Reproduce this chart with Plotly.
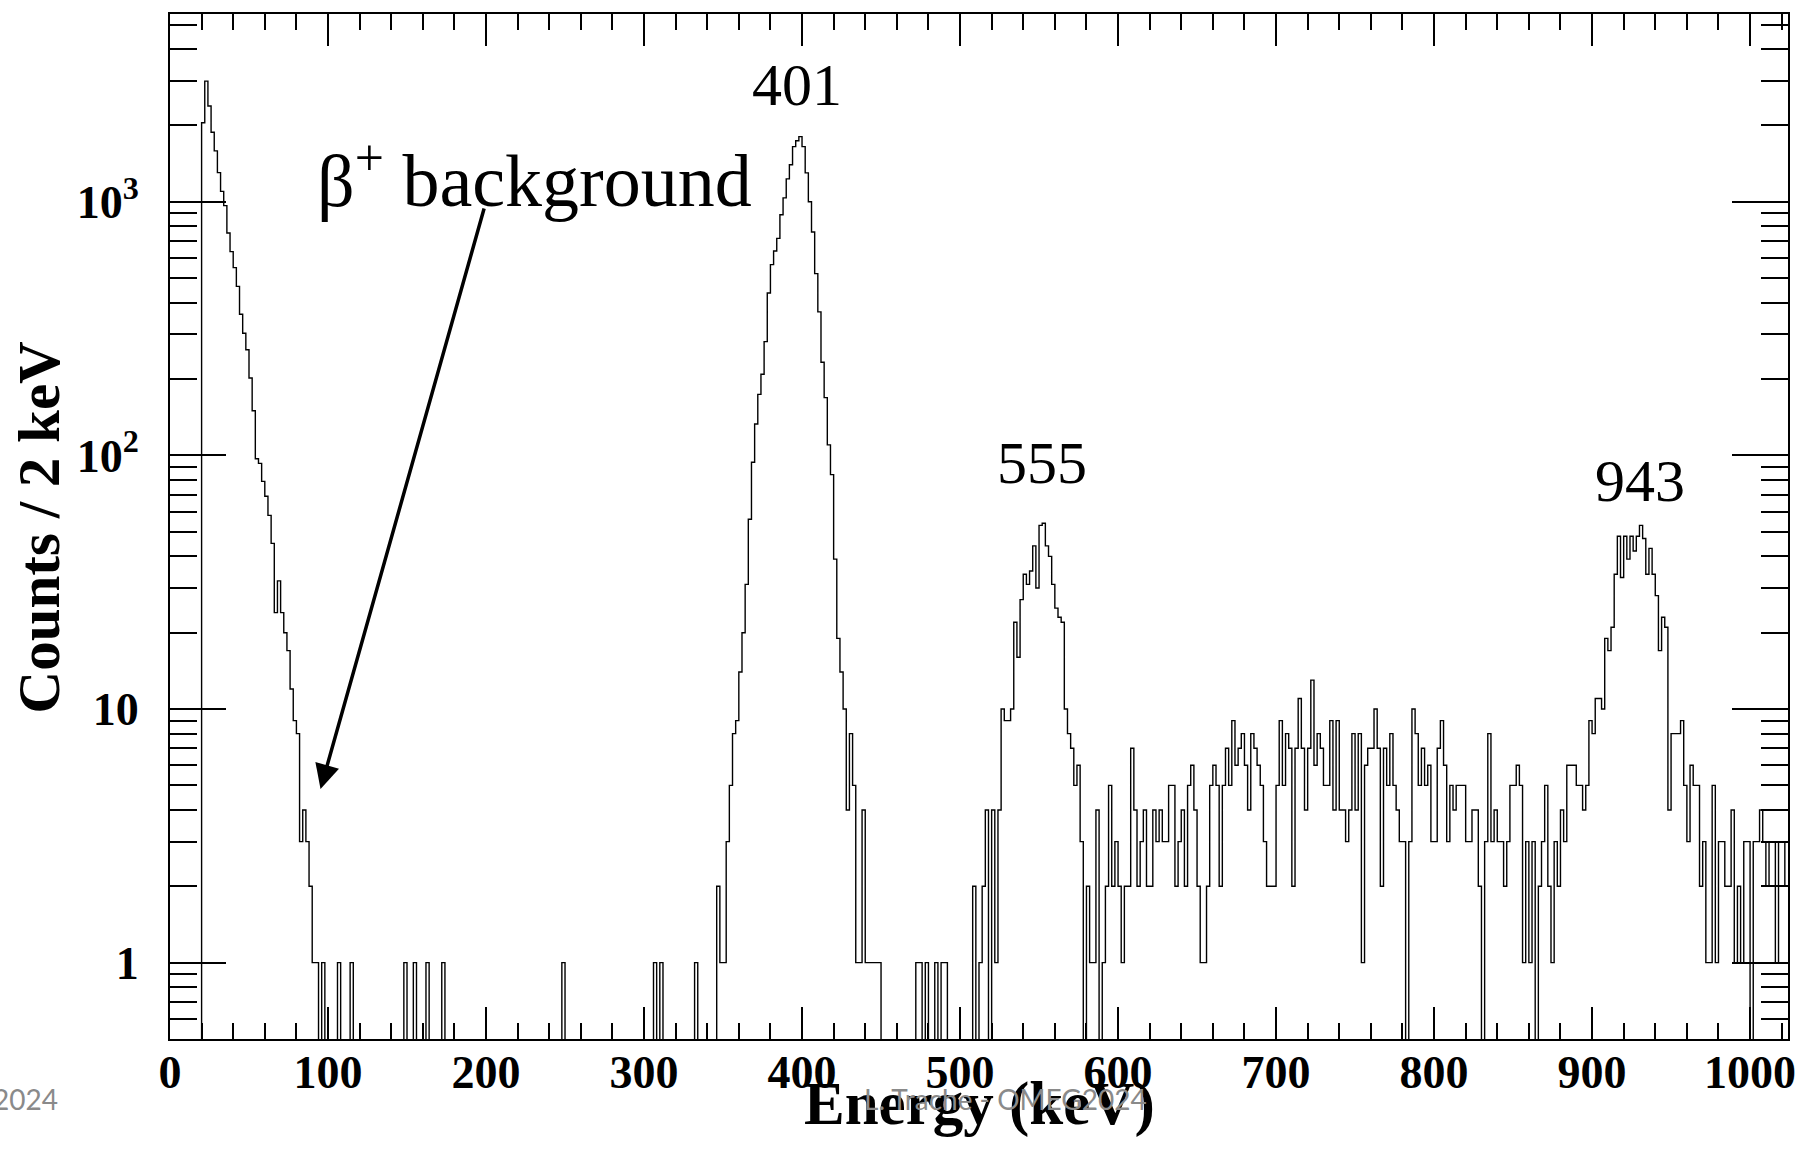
import math
import plotly.graph_objects as go

# ---------------- data (2 keV bins, 0 - 1024 keV) ----------------
bin_width_kev = 2
first_edge_kev = 0

counts_0000_0126 = [0, 0, 0, 0, 0, 0, 0, 0, 0, 0,
                    2048, 2990, 2386, 1881, 1588, 1303, 1099, 966, 753, 636,
                    550, 464, 360, 303, 261, 202, 150, 97, 93, 79,
                    69, 58, 45, 24, 32, 24, 20, 17, 12, 9,
                    8, 3, 4, 3, 2, 1, 1, 0, 1, 0,
                    0, 0, 0, 1, 0, 0, 0, 1, 0, 0,
                    0, 0, 0, 0]
counts_0128_0254 = [0, 0, 0, 0, 0, 0, 0, 0, 0, 0,
                    1, 0, 0, 1, 0, 0, 0, 1, 0, 0,
                    0, 0, 1, 0, 0, 0, 0, 0, 0, 0,
                    0, 0, 0, 0, 0, 0, 0, 0, 0, 0,
                    0, 0, 0, 0, 0, 0, 0, 0, 0, 0,
                    0, 0, 0, 0, 0, 0, 0, 0, 0, 0,
                    1, 0, 0, 0]
counts_0256_0382 = [0, 0, 0, 0, 0, 0, 0, 0, 0, 0,
                    0, 0, 0, 0, 0, 0, 0, 0, 0, 0,
                    0, 0, 0, 0, 0, 1, 0, 1, 0, 0,
                    0, 0, 0, 0, 0, 0, 0, 0, 1, 0,
                    0, 0, 0, 0, 0, 2, 1, 1, 3, 5,
                    8, 9, 14, 20, 31, 56, 94, 133, 174, 209,
                    281, 437, 565, 640]
counts_0384_0510 = [717, 889, 1036, 1231, 1400, 1650, 1740, 1807, 1650, 1300,
                    1000, 760, 521, 368, 233, 169, 110, 84, 39, 19,
                    14, 10, 4, 8, 5, 1, 1, 4, 1, 1,
                    1, 1, 1, 0, 0, 0, 0, 0, 0, 0,
                    0, 0, 0, 0, 1, 1, 0, 1, 0, 0,
                    1, 0, 1, 1, 0, 0, 0, 0, 0, 0,
                    0, 0, 2, 0]
counts_0512_0638 = [1, 2, 4, 0, 4, 1, 4, 10, 9, 9,
                    10, 22, 16, 27, 34, 31, 35, 44, 30, 53,
                    54, 44, 40, 31, 25, 23, 22, 10, 8, 7,
                    5, 6, 3, 0, 2, 1, 1, 4, 0, 1,
                    2, 5, 2, 3, 2, 1, 2, 2, 7, 4,
                    2, 3, 4, 2, 2, 4, 3, 4, 3, 3,
                    5, 5, 2, 3]
counts_0640_0766 = [4, 2, 5, 6, 4, 2, 1, 1, 2, 5,
                    6, 5, 2, 5, 7, 5, 9, 6, 7, 8,
                    6, 4, 8, 7, 6, 5, 3, 2, 2, 2,
                    5, 9, 5, 8, 7, 2, 7, 11, 7, 4,
                    7, 13, 6, 8, 7, 5, 5, 9, 4, 9,
                    4, 4, 3, 4, 8, 4, 8, 1, 6, 7,
                    7, 10, 7, 2]
counts_0768_0894 = [7, 5, 8, 5, 4, 3, 3, 0, 3, 10,
                    8, 5, 7, 5, 6, 3, 3, 7, 9, 6,
                    3, 5, 4, 5, 5, 5, 3, 3, 4, 4,
                    2, 0, 3, 8, 3, 4, 3, 3, 2, 3,
                    5, 5, 6, 5, 1, 3, 1, 3, 0, 2,
                    3, 5, 2, 1, 3, 2, 4, 3, 6, 6,
                    6, 5, 5, 4]
counts_0896_1022 = [5, 9, 8, 11, 11, 10, 19, 17, 21, 34,
                    48, 33, 48, 39, 48, 42, 48, 53, 47, 34,
                    43, 34, 28, 17, 23, 21, 4, 8, 8, 8,
                    9, 5, 3, 6, 5, 5, 2, 3, 1, 1,
                    5, 1, 3, 3, 2, 2, 4, 1, 2, 1,
                    3, 3, 0, 3, 3, 4, 3, 2, 3, 3,
                    1, 3, 3, 2]

x_tick_vals = [0, 100, 200, 300, 400, 500, 600, 700, 800, 900, 1000]
x_tick_text = ["0", "100", "200", "300", "400", "500", "600", "700", "800", "900", "1000"]
x_minor_vals = [v for v in range(0, 1025, 20) if v % 100 != 0]

y_tick_vals = [1, 10, 100, 1000]
y_tick_text = ["1", "10", "10<sup>2</sup>", "10<sup>3</sup>"]
y_minor_vals = [0.6, 0.7, 0.8, 0.9,
                2, 3, 4, 5, 6, 7, 8, 9,
                20, 30, 40, 50, 60, 70, 80, 90,
                200, 300, 400, 500, 600, 700, 800, 900,
                2000, 3000, 4000, 5000]

peak_labels = ["401", "555", "943"]
annotation_text = "β<sup>+</sup> background"

# ---------------- build ----------------
counts = (counts_0000_0126 + counts_0128_0254 + counts_0256_0382 + counts_0384_0510 +
          counts_0512_0638 + counts_0640_0766 + counts_0768_0894 + counts_0896_1022)
edges = [first_edge_kev + bin_width_kev * i for i in range(len(counts) + 1)]
# empty bins drop below the bottom of the log axis (as in ROOT)
y_plot = [c if c > 0 else 0.05 for c in counts]
y_plot = y_plot + [y_plot[-1]]

W, H = 1808, 1163
L, R, T, B = 170, 15, 14, 124
pw, ph = W - L - R, H - T - B


def px(x):
    return (x - L) / pw


def py(y):
    return (H - B - y) / ph


fig = go.Figure()
fig.add_trace(go.Scatter(x=edges, y=y_plot, mode="lines", line_shape="hv",
                         line=dict(color="black", width=1.4), hoverinfo="skip"))

serif = "Liberation Serif"
fig.update_layout(
    width=W, height=H,
    margin=dict(l=L, r=R, t=T, b=B, pad=0),
    paper_bgcolor="white", plot_bgcolor="white",
    showlegend=False,
    font=dict(family=serif, color="black"),
)
fig.update_xaxes(
    range=[0, 1024], tickmode="array", tickvals=x_tick_vals, ticktext=x_tick_text,
    ticks="inside", ticklen=32, tickwidth=1.5, tickcolor="black",
    minor=dict(tickmode="array", tickvals=x_minor_vals, ticks="inside", ticklen=16,
               tickwidth=1.5, tickcolor="black", showgrid=False),
    showline=True, linecolor="black", linewidth=2, mirror="allticks",
    showgrid=False, zeroline=False,
    tickfont=dict(family=serif, size=46, color="black", weight="bold"),
    ticklabelstandoff=-8,
)
fig.update_yaxes(
    type="log", range=[math.log10(0.5), math.log10(5500)],
    tickmode="array", tickvals=y_tick_vals, ticktext=y_tick_text,
    ticks="inside", ticklen=56, tickwidth=1.5, tickcolor="black",
    minor=dict(tickmode="array", tickvals=y_minor_vals, ticks="inside", ticklen=27,
               tickwidth=1.5, tickcolor="black", showgrid=False),
    showline=True, linecolor="black", linewidth=2, mirror="allticks",
    showgrid=False, zeroline=False,
    tickfont=dict(family=serif, size=46, color="black", weight="bold"),
    ticklabelstandoff=20,
)

ann = []
# axis titles
ann.append(dict(text="Energy (keV)", x=px(982), y=py(1104), xref="paper", yref="paper",
                xanchor="center", yanchor="middle", showarrow=False,
                font=dict(family=serif, size=61, color="black", weight="bold")))
ann.append(dict(text="Counts / 2 keV", x=px(39), y=py(527), xref="paper", yref="paper",
                xanchor="center", yanchor="middle", textangle=-90, showarrow=False,
                font=dict(family=serif, size=59, color="black", weight="bold")))
# peak labels
for label, cx, cy in zip(peak_labels, [799, 1045, 1645], [85, 463, 481]):
    ann.append(dict(text=label, x=px(cx), y=py(cy), xref="paper", yref="paper",
                    xanchor="center", yanchor="middle", showarrow=False,
                    font=dict(family=serif, size=60, color="black")))
ann.append(dict(text=annotation_text, x=px(536), y=py(175), xref="paper", yref="paper",
                xanchor="center", yanchor="middle", showarrow=False,
                font=dict(family=serif, size=74, color="black")))
# arrow
ann.append(dict(text="", x=px(321), y=py(789), xref="paper", yref="paper",
                ax=164, ay=-582, axref="pixel", ayref="pixel",
                showarrow=True, arrowhead=2, arrowsize=1.4, arrowwidth=3.5,
                arrowcolor="black", standoff=0, startstandoff=0))
# slide footer text
ann.append(dict(text="L. Trache - OMEG2024", x=px(1008), y=py(1099), xref="paper", yref="paper",
                xanchor="center", yanchor="middle", showarrow=False,
                font=dict(family="Lato", size=28, color="#8a8a8a")))
ann.append(dict(text="2024", x=px(60), y=py(1099), xref="paper", yref="paper",
                xanchor="right", yanchor="middle", showarrow=False,
                font=dict(family="Lato", size=28, color="#8a8a8a")))
fig.update_layout(annotations=ann)

fig.write_html("out.html")
